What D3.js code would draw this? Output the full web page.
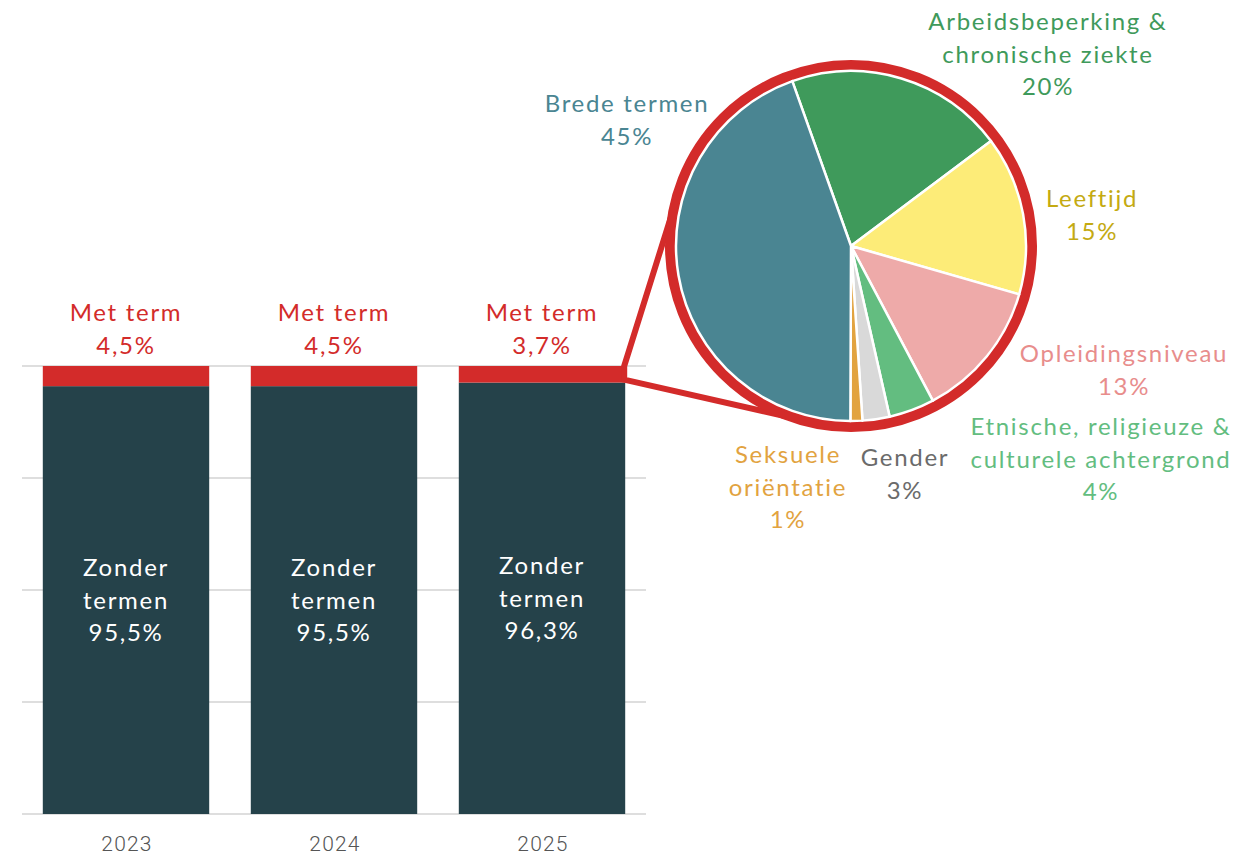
<!DOCTYPE html>
<html>
<head>
<meta charset="utf-8">
<script src="https://cdn.jsdelivr.net/npm/d3@7"></script>
<style>
  html, body { margin: 0; padding: 0; background: #fff; }
  svg { display: block; font-family: Lato, "Noto Sans", sans-serif; }
  .lbl { font-weight: 400; letter-spacing: 1.7px; }
  .yr { font-family: Roboto, "Liberation Sans", sans-serif; font-weight: 300; letter-spacing: 1.2px; }
</style>
</head>
<body>
<svg id="chart"></svg>
<script>
// bar data
const years = ['2023', '2024', '2025'];
const metTerm = [4.5, 4.5, 3.7];
const zonderTermen = [95.5, 95.5, 96.3];
const yTicks = [0, 25, 50, 75, 100];

// pie data (clockwise, starting at the top-left edge of "Arbeidsbeperking")
const pieNames = [
  ['Arbeidsbeperking &', 'chronische ziekte'],
  ['Leeftijd'],
  ['Opleidingsniveau'],
  ['Etnische, religieuze &', 'culturele achtergrond'],
  ['Gender'],
  ['Seksuele', 'oriëntatie'],
  ['Brede termen']
];
const pieValues = [20.2, 14.7, 12.8, 4.2, 2.5, 1.1, 44.5];

const width = 1239, height = 855;
const red = '#d32b2a', dark = '#25424a';
const sliceColors = ['#3f9a5b', '#fdec78', '#eeaaa9', '#63bd80', '#d9d9d9', '#e2a33f', '#4a8592'];
const labelColors = ['#3f9a5b', '#c4aa12', '#e88d8c', '#63bd80', '#6b6b6b', '#e2a33f', '#4a8592'];
// hand placed label anchors (centre of first line)
const labelAnchors = [[1048, 22], [1092, 199], [1124, 354], [1101, 427], [905, 458], [788, 455], [627, 104]];

const nl = d3.formatLocale({decimal: ',', thousands: '.', grouping: [3], currency: ['€', '']});
const fmt = nl.format('.1f');

const svg = d3.select('#chart').attr('width', width).attr('height', height);

const x = d3.scaleBand().domain(years).range([22, 646]).paddingInner(0.2).paddingOuter(0.1);
const y = d3.scaleLinear().domain([0, 100]).range([814, 366]);

// gridlines
svg.append('g').selectAll('line').data(yTicks).join('line')
  .attr('x1', 22).attr('x2', 646)
  .attr('y1', d => y(d)).attr('y2', d => y(d))
  .attr('stroke', '#dedede').attr('stroke-width', 2);

const bars = years.map((yr, i) => ({year: yr, met: metTerm[i], zonder: zonderTermen[i]}));

// dark segment
svg.append('g').selectAll('rect').data(bars).join('rect')
  .attr('x', d => x(d.year)).attr('width', x.bandwidth())
  .attr('y', d => y(d.zonder)).attr('height', d => y(0) - y(d.zonder))
  .attr('fill', dark);
// red segment
svg.append('g').selectAll('rect').data(bars).join('rect')
  .attr('x', d => x(d.year)).attr('width', x.bandwidth())
  .attr('y', d => y(d.zonder + d.met)).attr('height', d => y(d.zonder) - y(d.zonder + d.met))
  .attr('fill', red);

// x axis labels
svg.append('g').selectAll('text').data(years).join('text')
  .attr('class', 'yr')
  .attr('x', d => x(d) + x.bandwidth() / 2 + 1).attr('y', 851)
  .attr('text-anchor', 'middle')
  .attr('font-size', 21).attr('fill', '#555')
  .text(d => d);

// labels inside bars
const inside = svg.append('g').selectAll('text').data(bars).join('text')
  .attr('class', 'lbl')
  .attr('text-anchor', 'middle').attr('font-size', 24).attr('fill', '#fff')
  .attr('x', d => x(d.year) + x.bandwidth() / 2)
  .attr('y', d => (y(d.zonder) + y(0)) / 2 - 24);
inside.each(function(d) {
  const t = d3.select(this);
  ['Zonder', 'termen', fmt(d.zonder) + '%'].forEach((s, k) => {
    t.append('tspan').attr('x', t.attr('x')).attr('dy', k ? 32.5 : 0).text(s);
  });
});

// labels above bars
const above = svg.append('g').selectAll('text').data(bars).join('text')
  .attr('class', 'lbl')
  .attr('text-anchor', 'middle').attr('font-size', 24).attr('fill', red)
  .attr('x', d => x(d.year) + x.bandwidth() / 2)
  .attr('y', d => y(d.zonder + d.met) - 45);
above.each(function(d) {
  const t = d3.select(this);
  ['Met term', fmt(d.met) + '%'].forEach((s, k) => {
    t.append('tspan').attr('x', t.attr('x')).attr('dy', k ? 33 : 0).text(s);
  });
});

// pie
const cx = 851, cy = 246, ringR = 180.5, pieR = 175;
const last = bars[bars.length - 1];
const px = x(last.year) + x.bandwidth();
function tangent(p, side) {
  const dx = cx - p[0], dy = cy - p[1];
  const d = Math.hypot(dx, dy);
  const a = Math.atan2(dy, dx) + side * Math.asin(ringR / d);
  const L = Math.sqrt(d * d - ringR * ringR);
  return [p[0] + L * Math.cos(a), p[1] + L * Math.sin(a)];
}
const pTop = [px - 1, y(last.zonder + last.met)];
const pBot = [px - 1, y(last.zonder) - 3];
svg.append('path')
  .attr('d', d3.line()([tangent(pTop, -1), pTop, pBot, tangent(pBot, 1)]))
  .attr('fill', 'none').attr('stroke', red).attr('stroke-width', 6).attr('stroke-linejoin', 'miter');

svg.append('circle').attr('cx', cx).attr('cy', cy).attr('r', ringR)
  .attr('fill', '#fff').attr('stroke', red).attr('stroke-width', 11);

const start = -19.6 * Math.PI / 180;
const pie = d3.pie().sort(null).startAngle(start).endAngle(start + 2 * Math.PI);
const arcs = pie(pieValues);
const arc = d3.arc().innerRadius(0).outerRadius(pieR);
svg.append('g').attr('transform', `translate(${cx},${cy})`)
  .selectAll('path').data(arcs).join('path')
  .attr('d', arc)
  .attr('fill', (d, i) => sliceColors[i])
  .attr('stroke', '#fff').attr('stroke-width', 2.5).attr('stroke-linejoin', 'round');

// pie labels
const pl = svg.append('g').selectAll('text').data(arcs).join('text')
  .attr('class', 'lbl')
  .attr('text-anchor', 'middle').attr('font-size', 24)
  .attr('fill', (d, i) => labelColors[i])
  .attr('x', (d, i) => labelAnchors[i][0])
  .attr('y', (d, i) => labelAnchors[i][1] + 8);
pl.each(function(d, i) {
  const t = d3.select(this);
  pieNames[i].concat([Math.round(d.data) + '%']).forEach((s, k) => {
    t.append('tspan').attr('x', t.attr('x')).attr('dy', k ? 32.5 : 0).text(s);
  });
});
</script>
</body>
</html>
